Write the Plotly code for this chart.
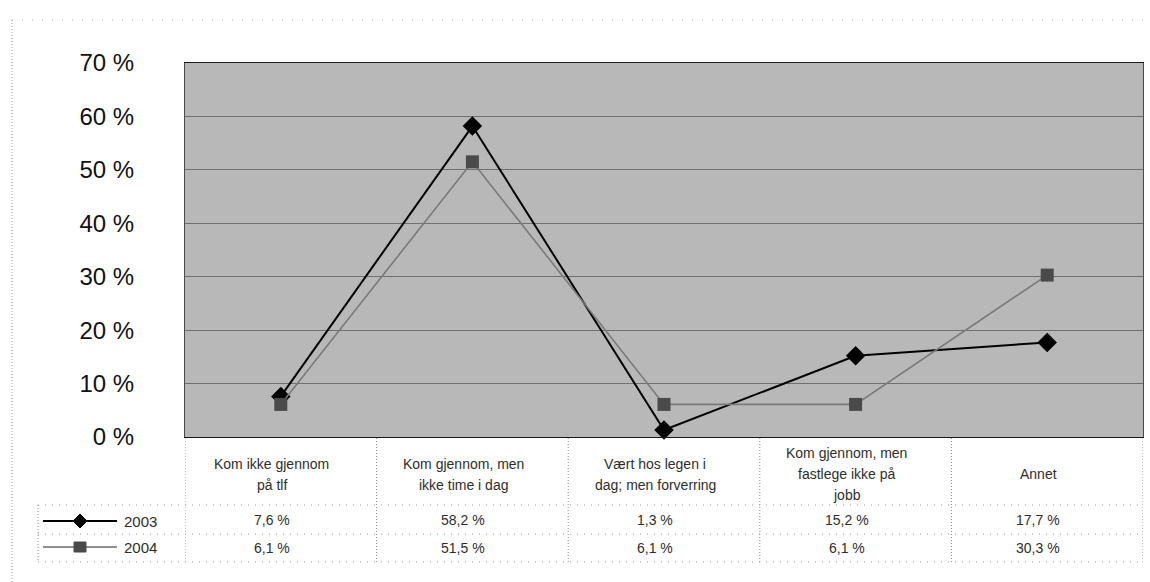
import plotly.graph_objects as go

# Data
categories = [
    "Kom ikke gjennom<br>på tlf",
    "Kom gjennom, men<br>ikke time i dag",
    "Vært hos legen i<br>dag; men forverring",
    "Kom gjennom, men<br>fastlege ikke på<br>jobb",
    "Annet",
]
series_names = ["2003", "2004"]
values_2003 = [7.6, 58.2, 1.3, 15.2, 17.7]
values_2004 = [6.1, 51.5, 6.1, 6.1, 30.3]
y_ticks = [0, 10, 20, 30, 40, 50, 60, 70]
y_tick_labels = [f"{v} %" for v in y_ticks]

W, H = 1150, 582
ML, MR, MT, MB = 185, 7, 63, 145
PW, PH = W - ML - MR, H - MT - MB


def px(x):
    """pixel x -> paper x"""
    return (x - ML) / PW


def py(y):
    """pixel y -> paper y"""
    return (H - MB - y) / PH


def fmt(v):
    return f"{v:.1f}".replace(".", ",") + " %"


idx = list(range(len(categories)))

fig = go.Figure()
fig.add_trace(go.Scatter(
    x=idx, y=values_2003, mode="lines+markers", name=series_names[0],
    line=dict(color="#000000", width=2),
    marker=dict(symbol="diamond", size=15, color="#000000"),
    cliponaxis=False,
))
fig.add_trace(go.Scatter(
    x=idx, y=values_2004, mode="lines+markers", name=series_names[1],
    line=dict(color="#7a7a7a", width=1.6),
    marker=dict(symbol="square", size=13, color="#4a4a4a"),
    cliponaxis=False,
))

font_main = "Liberation Sans, Arial, sans-serif"
text_col = "#2e2e2e"
shapes = []
dot = dict(color="#8a8a8a", width=1, dash="1px,3px")

# outer frame (faint dotted)
shapes.append(dict(type="line", xref="paper", yref="paper",
                   x0=px(12), x1=px(1150), y0=py(20), y1=py(20),
                   line=dict(color="#a8a8a8", width=1, dash="1px,9px")))
shapes.append(dict(type="line", xref="paper", yref="paper",
                   x0=px(12), x1=px(12), y0=py(20), y1=py(582),
                   line=dict(color="#9a9a9a", width=1, dash="1px,2px")))

# data table grid: column separators at category boundaries
for b in [i - 0.5 for i in idx] + [idx[-1] + 0.5]:
    shapes.append(dict(type="line", xref="x", yref="paper",
                       x0=b, x1=b, y0=py(438), y1=py(562),
                       line=dict(color="#8a8a8a", width=1, dash="1px,2px")))
for yy in (505, 534, 562):
    shapes.append(dict(type="line", xref="paper", yref="paper",
                       x0=px(38), x1=1, y0=py(yy), y1=py(yy),
                       line=dict(color="#999999", width=1, dash="1px,6px")))
shapes.append(dict(type="line", xref="paper", yref="paper",
                   x0=px(38), x1=px(38), y0=py(505), y1=py(562),
                   line=dict(color="#8a8a8a", width=1, dash="1px,2px")))

# legend keys inside the table
key_rows = [(521, "#000000", "#000000", "diamond", 1.8),
            (547, "#6a6a6a", "#4a4a4a", "square", 1.4)]
for yy, lc, mc, sym, lw in key_rows:
    shapes.append(dict(type="line", xref="paper", yref="paper",
                       x0=px(43), x1=px(117), y0=py(yy), y1=py(yy),
                       line=dict(color=lc, width=lw)))
    cx = 80
    if sym == "diamond":
        path = (f"M {px(cx-7)},{py(yy)} L {px(cx)},{py(yy-7)} "
                f"L {px(cx+7)},{py(yy)} L {px(cx)},{py(yy+7)} Z")
    else:
        path = (f"M {px(cx-6)},{py(yy-5)} L {px(cx+6)},{py(yy-5)} "
                f"L {px(cx+6)},{py(yy+5)} L {px(cx-6)},{py(yy+5)} Z")
    shapes.append(dict(type="path", xref="paper", yref="paper", path=path,
                       fillcolor=mc, line=dict(color=mc, width=1)))

annotations = []
line_gap = 21
for i, cat in enumerate(categories):
    lines = cat.split("<br>")
    top = 474 - line_gap * (len(lines) - 1) / 2
    for k, ln in enumerate(lines):
        annotations.append(dict(
            x=i, xref="x", y=py(top + k * line_gap), yref="paper", text=ln,
            showarrow=False, xanchor="center", yanchor="middle", xshift=-9,
            font=dict(family=font_main, size=14, color=text_col),
        ))
    for yy, vals in ((520, values_2003), (548, values_2004)):
        annotations.append(dict(
            x=i, xref="x", y=py(yy), yref="paper", text=fmt(vals[i]),
            showarrow=False, xanchor="center", yanchor="middle", xshift=-9,
            font=dict(family=font_main, size=14, color=text_col),
        ))
for yy, name in zip((521, 547), series_names):
    annotations.append(dict(
        x=px(122), xref="paper", y=py(yy), yref="paper", text=name,
        showarrow=False, xanchor="left", yanchor="middle",
        font=dict(family=font_main, size=15, color=text_col),
    ))

fig.update_layout(
    width=W, height=H,
    margin=dict(l=ML, r=MR, t=MT, b=MB, pad=0),
    paper_bgcolor="#ffffff",
    plot_bgcolor="#b8b8b8",
    showlegend=False,
    shapes=shapes,
    annotations=annotations,
    xaxis=dict(
        range=[-0.5, len(categories) - 0.5], showticklabels=False,
        showgrid=False, zeroline=False, ticks="",
        showline=True, linecolor="#1a1a1a", linewidth=1, mirror=True,
    ),
    yaxis=dict(
        range=[0, 70], tickvals=y_ticks, ticktext=y_tick_labels,
        showgrid=True, gridcolor="#707070", gridwidth=1, zeroline=False,
        ticks="", ticklabelstandoff=45,
        tickfont=dict(family=font_main, size=24, color="#111111"),
        showline=True, linecolor="#4a4a4a", linewidth=1, mirror=True,
    ),
)

fig.write_html("out.html")
